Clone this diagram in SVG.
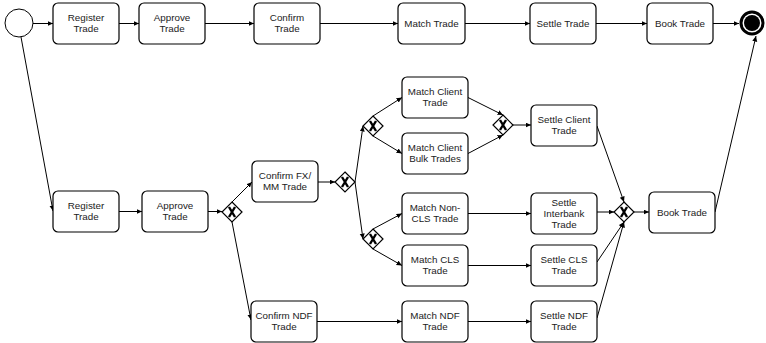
<svg xmlns="http://www.w3.org/2000/svg" width="766" height="343" viewBox="0 0 766 343">
<style>
.box{fill:#fff;stroke:#000;stroke-width:1.2}
.t{font-family:"Liberation Sans",Arial,sans-serif;font-size:9.8px;fill:#222;text-anchor:middle}
.gw{fill:#fff;stroke:#000;stroke-width:1.2}
.gx{stroke:#000;stroke-width:2.4;fill:none}
.c{stroke:#000;stroke-width:1;fill:none;marker-end:url(#ah)}
</style>
<defs>
<marker id="ah" markerUnits="userSpaceOnUse" markerWidth="6" markerHeight="6" refX="5.5" refY="2.5" orient="auto"><path d="M0,0 L5.5,2.5 L0,5 z" fill="#000"/></marker>
</defs>
<rect width="766" height="343" fill="#fff"/>
<g id="connectors">
<line class="c" x1="33" y1="23.5" x2="53" y2="23.5"/>
<line class="c" x1="119" y1="23.5" x2="139" y2="23.5"/>
<line class="c" x1="205" y1="23.5" x2="254" y2="23.5"/>
<line class="c" x1="320" y1="23.5" x2="398" y2="23.5"/>
<line class="c" x1="465" y1="23.5" x2="530" y2="23.5"/>
<line class="c" x1="596" y1="23.5" x2="647" y2="23.5"/>
<line class="c" x1="713" y1="23.5" x2="739" y2="23.5"/>
<line class="c" x1="21" y1="37" x2="53" y2="211"/>
<line class="c" x1="119" y1="211.5" x2="142" y2="211.5"/>
<line class="c" x1="208" y1="211.5" x2="222" y2="211.5"/>
<line class="c" x1="232" y1="202" x2="252" y2="182"/>
<line class="c" x1="232" y1="222" x2="251" y2="320"/>
<line class="c" x1="318" y1="182" x2="335" y2="182"/>
<line class="c" x1="355" y1="182" x2="363" y2="126"/>
<line class="c" x1="355" y1="182" x2="363" y2="239"/>
<line class="c" x1="373" y1="116" x2="402" y2="97.5"/>
<line class="c" x1="373" y1="136" x2="402" y2="153.5"/>
<line class="c" x1="468" y1="97.5" x2="503" y2="115"/>
<line class="c" x1="468" y1="153.5" x2="503" y2="135"/>
<line class="c" x1="513" y1="125" x2="531" y2="125"/>
<line class="c" x1="597" y1="126" x2="624" y2="202"/>
<line class="c" x1="373" y1="229" x2="402" y2="213.5"/>
<line class="c" x1="373" y1="249" x2="402" y2="265.5"/>
<line class="c" x1="468" y1="213.5" x2="531" y2="213.5"/>
<line class="c" x1="468" y1="265.5" x2="531" y2="265.5"/>
<line class="c" x1="597" y1="212" x2="614" y2="212"/>
<line class="c" x1="597" y1="262" x2="624" y2="222"/>
<line class="c" x1="597" y1="318" x2="624" y2="222"/>
<line class="c" x1="634" y1="212" x2="649" y2="212"/>
<line class="c" x1="715" y1="212" x2="756" y2="36"/>
<line class="c" x1="317" y1="321.5" x2="402" y2="321.5"/>
<line class="c" x1="468" y1="321.5" x2="531" y2="321.5"/>
</g>
<g id="start"><circle cx="19" cy="23" r="14" fill="#fff" stroke="#000" stroke-width="1"/></g>
<g id="end"><circle cx="752" cy="23" r="11" fill="#fff" stroke="#000" stroke-width="3"/><circle cx="752" cy="23" r="8" fill="#000"/></g>
<g id="register1"><rect class="box" x="53" y="3" width="66" height="41" rx="5"/><text class="t" x="86" y="21">Register</text><text class="t" x="86" y="32">Trade</text></g>
<g id="approve1"><rect class="box" x="139" y="3" width="66" height="41" rx="5"/><text class="t" x="172" y="21">Approve</text><text class="t" x="172" y="32">Trade</text></g>
<g id="confirm1"><rect class="box" x="254" y="3" width="66" height="41" rx="5"/><text class="t" x="287" y="21">Confirm</text><text class="t" x="287" y="32">Trade</text></g>
<g id="match1"><rect class="box" x="398" y="3" width="67" height="41" rx="5"/><text class="t" x="431.5" y="27">Match Trade</text></g>
<g id="settle1"><rect class="box" x="530" y="3" width="66" height="41" rx="5"/><text class="t" x="563" y="27">Settle Trade</text></g>
<g id="book1"><rect class="box" x="647" y="3" width="66" height="41" rx="5"/><text class="t" x="680" y="27">Book Trade</text></g>
<g id="register2"><rect class="box" x="53" y="191" width="66" height="41" rx="5"/><text class="t" x="86" y="209">Register</text><text class="t" x="86" y="220">Trade</text></g>
<g id="approve2"><rect class="box" x="142" y="191" width="66" height="41" rx="5"/><text class="t" x="175" y="209">Approve</text><text class="t" x="175" y="220">Trade</text></g>
<g id="confirmfx"><rect class="box" x="252" y="161" width="66" height="41" rx="5"/><text class="t" x="285" y="179">Confirm FX/</text><text class="t" x="285" y="190">MM Trade</text></g>
<g id="confirmndf"><rect class="box" x="251" y="301" width="66" height="41" rx="5"/><text class="t" x="284" y="319">Confirm NDF</text><text class="t" x="284" y="330">Trade</text></g>
<g id="matchclient"><rect class="box" x="402" y="77" width="66" height="41" rx="5"/><text class="t" x="435" y="95">Match Client</text><text class="t" x="435" y="106">Trade</text></g>
<g id="matchbulk"><rect class="box" x="402" y="133" width="66" height="41" rx="5"/><text class="t" x="435" y="151">Match Client</text><text class="t" x="435" y="162">Bulk Trades</text></g>
<g id="matchnoncls"><rect class="box" x="402" y="193" width="66" height="41" rx="5"/><text class="t" x="435" y="211">Match Non-</text><text class="t" x="435" y="222">CLS Trade</text></g>
<g id="matchcls"><rect class="box" x="402" y="245" width="66" height="41" rx="5"/><text class="t" x="435" y="263">Match CLS</text><text class="t" x="435" y="274">Trade</text></g>
<g id="matchndf"><rect class="box" x="402" y="301" width="66" height="41" rx="5"/><text class="t" x="435" y="319">Match NDF</text><text class="t" x="435" y="330">Trade</text></g>
<g id="settleclient"><rect class="box" x="531" y="105" width="66" height="41" rx="5"/><text class="t" x="564" y="123">Settle Client</text><text class="t" x="564" y="134">Trade</text></g>
<g id="settleinterbank"><rect class="box" x="531" y="193" width="66" height="41" rx="5"/><text class="t" x="564" y="206">Settle</text><text class="t" x="564" y="217">Interbank</text><text class="t" x="564" y="228">Trade</text></g>
<g id="settlecls"><rect class="box" x="531" y="245" width="66" height="41" rx="5"/><text class="t" x="564" y="263">Settle CLS</text><text class="t" x="564" y="274">Trade</text></g>
<g id="settlendf"><rect class="box" x="531" y="301" width="66" height="41" rx="5"/><text class="t" x="564" y="319">Settle NDF</text><text class="t" x="564" y="330">Trade</text></g>
<g id="book2"><rect class="box" x="649" y="192" width="66" height="41" rx="5"/><text class="t" x="682" y="215.5">Book Trade</text></g>
<g id="gw1"><path class="gw" d="M232,202 L242,212 L232,222 L222,212 Z"/><path class="gx" d="M229,207 L235,217 M235,207 L229,217"/></g>
<g id="gw2"><path class="gw" d="M345,172 L355,182 L345,192 L335,182 Z"/><path class="gx" d="M342,177 L348,187 M348,177 L342,187"/></g>
<g id="gw3"><path class="gw" d="M373,116 L383,126 L373,136 L363,126 Z"/><path class="gx" d="M370,121 L376,131 M376,121 L370,131"/></g>
<g id="gw4"><path class="gw" d="M503,115 L513,125 L503,135 L493,125 Z"/><path class="gx" d="M500,120 L506,130 M506,120 L500,130"/></g>
<g id="gw5"><path class="gw" d="M373,229 L383,239 L373,249 L363,239 Z"/><path class="gx" d="M370,234 L376,244 M376,234 L370,244"/></g>
<g id="gw6"><path class="gw" d="M624,202 L634,212 L624,222 L614,212 Z"/><path class="gx" d="M621,207 L627,217 M627,207 L621,217"/></g>
</svg>
